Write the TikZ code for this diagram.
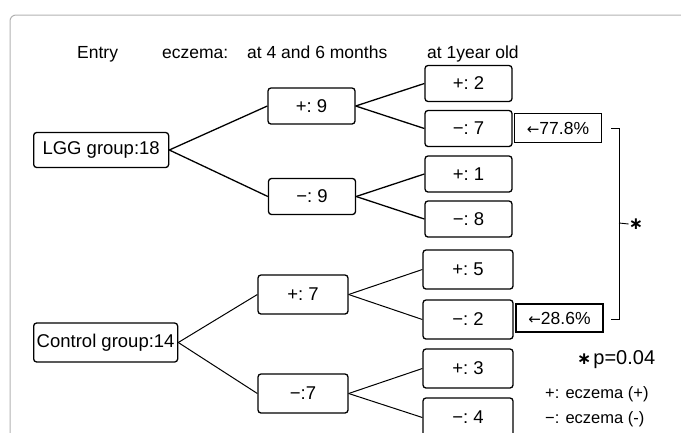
\documentclass[tikz,border=0pt]{standalone}
\usepackage{fontspec}
\setmainfont{Liberation Sans}
\newfontfamily\symbfont{DejaVu Sans}
\usetikzlibrary{positioning}
\newcommand{\ecz}[2]{#1:\hspace{5pt}#2}

\tikzset{
  cell/.style={draw,rounded corners=3pt,line width=1.3pt,inner sep=0pt,
    minimum width=87pt,minimum height=36pt,font=\fontsize{18.5}{20}\selectfont},
  wcell/.style={cell,minimum width=90pt,minimum height=39pt},
  pct/.style={draw,line width=1.2pt,inner sep=0pt,minimum width=87pt,
    minimum height=28pt,font=\fontsize{17.5}{19}\selectfont},
  head/.style={anchor=base west,inner sep=0pt,font=\fontsize{17.5}{20}\selectfont},
  legend/.style={anchor=west,inner sep=0pt,font=\fontsize{16.5}{18}\selectfont},
  link/.style={line width=1.3pt},
  thinlink/.style={line width=1pt},
}

\begin{document}
\begin{tikzpicture}[x=1pt,y=-1pt]
\useasboundingbox (0,0) rectangle (681,432);
\clip (0,0) rectangle (681,432);
\draw[black!30,line width=1pt,rounded corners=6pt] (10,15) rectangle (720,470);

% header
\node[head] (hEntry) at (77,58) {Entry};
\node[head] (hEcz) at (162,58) {eczema:};
\node[head] (hMonths) at (247,58) {at 4 and 6 months};
\node[head] (hYear) at (427,58) {at 1year old};

% LGG group
\node[cell,anchor=west,minimum width=135pt,minimum height=35pt] (lgg) at (33,150) {LGG group:18};
\node[cell] (lggP) at (311.5,106) {\ecz{+}{9}};
\node[cell] (lggM) at (312,196.5) {\ecz{−}{9}};
\node[cell] (lggPP) at (468.5,83.5) {\ecz{+}{2}};
\node[cell] (lggPM) at (468.5,128.5) {\ecz{−}{7}};
\node[cell] (lggMP) at (468.5,174) {\ecz{+}{1}};
\node[cell] (lggMM) at (468.5,219) {\ecz{−}{8}};
\node[pct,minimum height=29pt] (lggPct) at (558,128) {{\symbfont\fontsize{15}{16}\selectfont ←}77.8\%};

\draw[link] (lgg.east) -- (lggP.west);
\draw[link] (lgg.east) -- (lggM.west);
\draw[link] (lggP.east) -- (lggPP.west);
\draw[link] (lggP.east) -- (lggPM.west);
\draw[link] (lggM.east) -- (lggMP.west);
\draw[link] (lggM.east) -- (lggMM.west);

% Control group
\node[wcell,anchor=west,minimum width=144pt] (ctl) at (33,342.5) {Control group:14};
\node[wcell] (ctlP) at (303,294.5) {\ecz{+}{7}};
\node[wcell] (ctlM) at (303,393.5) {−:7};
\node[wcell] (ctlPP) at (468,269.5) {\ecz{+}{5}};
\node[wcell] (ctlPM) at (468,319.5) {\ecz{−}{2}};
\node[wcell] (ctlMP) at (468,368.5) {\ecz{+}{3}};
\node[wcell] (ctlMM) at (468,417.5) {\ecz{−}{4}};
\node[pct] (ctlPct) at (559.5,318) {{\symbfont\fontsize{15}{16}\selectfont ←}28.6\%};

\draw[thinlink] (ctl.east) -- (ctlP.west);
\draw[thinlink] (ctl.east) -- (ctlM.west);
\draw[thinlink] (ctlP.east) -- (ctlPP.west);
\draw[thinlink] (ctlP.east) -- (ctlPM.west);
\draw[thinlink] (ctlM.east) -- (ctlMP.west);
\draw[thinlink] (ctlM.east) -- (ctlMM.west);

% bracket
\coordinate (brTop) at (611,128);
\coordinate (brBot) at (611,319);
\node[inner sep=0pt,font=\symbfont\bfseries\fontsize{17}{18}\selectfont] (sig) at (636,224) {∗};
\draw[line width=0.9pt] (brTop) -- ++(8,0) |- (brBot);
\draw[line width=0.9pt] (619,223) -- (sig.west);

% legend
\node[anchor=west,inner sep=0pt,font=\fontsize{20}{22}\selectfont] (pval) at (577,360) {{\symbfont\bfseries\fontsize{17}{18}\selectfont ∗}\hspace{2pt}p=0.04};
\node[legend] (legP) at (545,394) {+: eczema (+)};
\node[legend] (legM) at (545,419) {−: eczema (-)};
\end{tikzpicture}
\end{document}
